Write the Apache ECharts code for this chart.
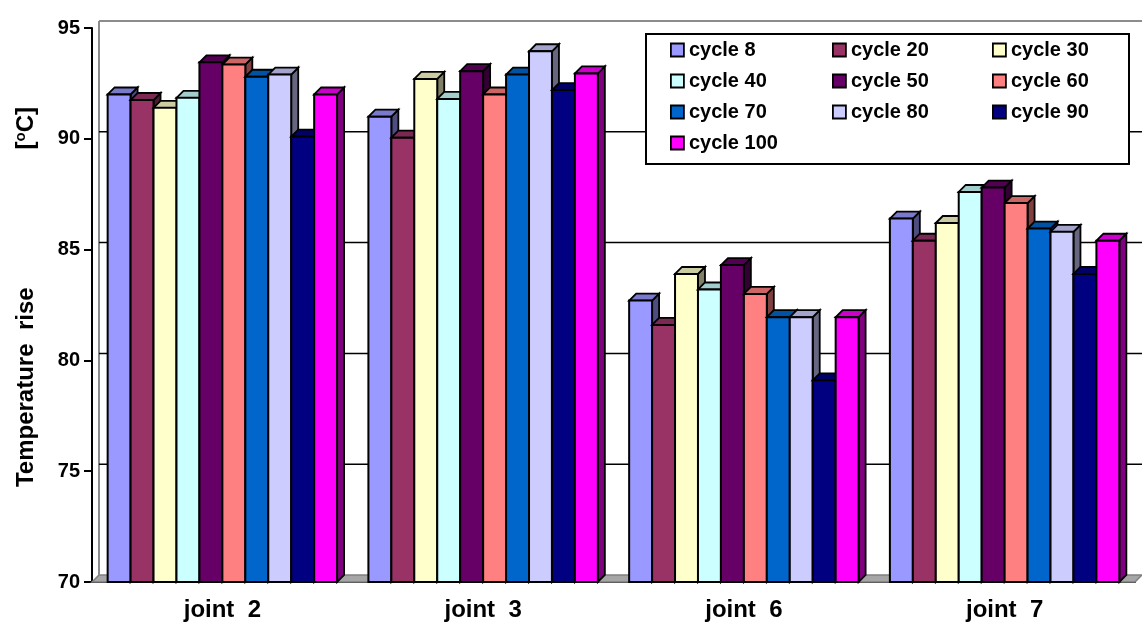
<!DOCTYPE html>
<html>
<head>
<meta charset="utf-8">
<script src="https://cdn.jsdelivr.net/npm/echarts@6/dist/echarts.min.js"></script>
<style>
  html, body { margin: 0; padding: 0; background: #fff; }
  #chart { width: 1142px; height: 626px; }
</style>
</head>
<body>
<div id="chart"></div>
<script>
// categories and tick values
var joints = ['joint  2', 'joint  3', 'joint  6', 'joint  7'];
var yTicks = [70, 75, 80, 85, 90, 95];

// temperature rise [oC] per joint, one array per cycle
var cycle8   = [92.0, 91.0, 82.7, 86.4];
var cycle20  = [91.75, 90.05, 81.6, 85.4];
var cycle30  = [91.4, 92.7, 83.9, 86.2];
var cycle40  = [91.85, 91.8, 83.2, 87.6];
var cycle50  = [93.45, 93.05, 84.3, 87.8];
var cycle60  = [93.35, 92.0, 83.0, 87.1];
var cycle70  = [92.8, 92.9, 81.95, 85.95];
var cycle80  = [92.9, 93.95, 81.95, 85.8];
var cycle90  = [90.1, 92.2, 79.1, 83.9];
var cycle100 = [92.0, 92.95, 81.95, 85.4];

var names = ['cycle 8', 'cycle 20', 'cycle 30', 'cycle 40', 'cycle 50',
             'cycle 60', 'cycle 70', 'cycle 80', 'cycle 90', 'cycle 100'];
var values = [cycle8, cycle20, cycle30, cycle40, cycle50,
              cycle60, cycle70, cycle80, cycle90, cycle100];

var colors = ['#9999FF', '#993366', '#FFFFCC', '#CCFFFF', '#660066',
              '#FF8080', '#0066CC', '#CCCCFF', '#000080', '#FF00FF'];

var D = 7;           // 3d depth in px
var font = "'Liberation Sans', Arial, sans-serif";

function shade(hex, k) {
  var r = parseInt(hex.substr(1, 2), 16), g = parseInt(hex.substr(3, 2), 16), b = parseInt(hex.substr(5, 2), 16);
  return 'rgb(' + Math.round(r * k) + ',' + Math.round(g * k) + ',' + Math.round(b * k) + ')';
}

function barRenderer(idx) {
  return function (params, api) {
    var cat = api.value(0);
    var top = api.coord([cat, api.value(1)]);
    var bot = api.coord([cat, yTicks[0]]);
    var band = api.size([1, 0])[0];
    var w = band * 0.088;
    var x = top[0] - 5 * w + idx * w;
    var yT = top[1], yB = bot[1];
    var c = colors[idx];
    return {
      type: 'group',
      children: [
        { type: 'polygon', shape: { points: [[x + w, yT], [x + w + D, yT - D], [x + w + D, yB - D], [x + w, yB]] },
          style: { fill: shade(c, 0.5), stroke: '#000', lineWidth: 1.8 } },
        { type: 'polygon', shape: { points: [[x, yT], [x + D, yT - D], [x + w + D, yT - D], [x + w, yT]] },
          style: { fill: shade(c, 0.8), stroke: '#000', lineWidth: 1.8 } },
        { type: 'rect', shape: { x: x, y: yT, width: w, height: yB - yT },
          style: { fill: c, stroke: '#000', lineWidth: 2 } }
      ]
    };
  };
}

// back wall, gridlines and floor
function wallRenderer(params, api) {
  var v = api.value(1);
  var p = api.coord([0, v]);
  var cs = params.coordSys;
  var x0 = cs.x, x1 = cs.x + cs.width, y = p[1];
  var yTop = api.coord([0, yTicks[yTicks.length - 1]])[1];
  if (v === yTicks[0]) {
    return {
      type: 'group',
      children: [
        { type: 'polygon', shape: { points: [[x0, y], [x0 + D, y - D], [x1 + D, y - D], [x1, y]] },
          style: { fill: '#a6a6a6', stroke: '#808080', lineWidth: 1.5 } },
        { type: 'line', shape: { x1: x0 + D, y1: y - D, x2: x0 + D, y2: yTop - D },
          style: { stroke: '#8c8c8c', lineWidth: 2 } }
      ]
    };
  }
  var top = v === yTicks[yTicks.length - 1];
  return {
    type: 'line',
    shape: { x1: x0 + D, y1: y - D, x2: x1 + D, y2: y - D },
    style: { stroke: top ? '#8c8c8c' : '#000', lineWidth: top ? 2 : 1.5 }
  };
}

var series = [{
  type: 'custom',
  name: 'wall',
  z: 1,
  renderItem: wallRenderer,
  encode: { x: 0, y: 1 },
  data: yTicks.map(function (v) { return [0, v]; }),
  silent: true
}];
values.forEach(function (arr, i) {
  series.push({
    type: 'custom',
    name: names[i],
    z: 2,
    itemStyle: { color: colors[i], borderColor: '#000', borderWidth: 1.5 },
    renderItem: barRenderer(i),
    encode: { x: 0, y: 1 },
    data: arr.map(function (v, j) { return [j, v]; })
  });
});

function legendCol(left, items) {
  return {
    orient: 'vertical',
    left: left,
    top: 35,
    padding: 5,
    z: 10,
    icon: 'rect',
    itemWidth: 13,
    itemHeight: 13,
    itemGap: 11,
    itemStyle: { borderColor: '#000', borderWidth: 1.8 },
    textStyle: { fontFamily: font, fontWeight: 'bold', fontSize: 20, color: '#000', lineHeight: 20 },
    data: items
  };
}

var option = {
  animation: false,
  backgroundColor: '#fff',
  grid: { left: 92, right: 7, top: 28, bottom: 44 },
  graphic: [{
    type: 'rect',
    left: 645, top: 33, z: 5,
    shape: { width: 483, height: 130 },
    style: { fill: '#fff', stroke: '#000', lineWidth: 2 }
  }],
  legend: [
    legendCol(665, [names[0], names[3], names[6], names[9]]),
    legendCol(827, [names[1], names[4], names[7]]),
    legendCol(987, [names[2], names[5], names[8]])
  ],
  xAxis: {
    type: 'category',
    data: joints,
    axisLine: { lineStyle: { color: '#000', width: 2 } },
    axisTick: { length: 9, lineStyle: { color: '#000', width: 2 } },
    axisLabel: { fontFamily: font, fontWeight: 'bold', fontSize: 24, color: '#000', margin: 16 }
  },
  yAxis: {
    type: 'value',
    min: 70, max: 95, interval: 5,
    name: '{a|Temperature  rise}{gap|}{a|[}{sup|o}{a|C]}',
    nameLocation: 'middle',
    nameGap: 52,
    nameTextStyle: {
      padding: [0, 0, 0, 16],
      rich: {
        a: { fontFamily: font, fontWeight: 'bold', fontSize: 24, color: '#000' },
        gap: { width: 138 },
        sup: { fontFamily: font, fontWeight: 'bold', fontSize: 15, color: '#000', padding: [0, 0, 12, 0] }
      }
    },
    axisLine: { show: true, lineStyle: { color: '#000', width: 2 } },
    axisTick: { show: true, length: 8, lineStyle: { color: '#000', width: 2 } },
    splitLine: { show: false },
    axisLabel: { fontFamily: font, fontWeight: 'bold', fontSize: 20, color: '#000', margin: 12, padding: [0, 0, 14, 0] }
  },
  series: series
};

var chart = echarts.init(document.getElementById('chart'));
chart.setOption(option);
</script>
</body>
</html>
